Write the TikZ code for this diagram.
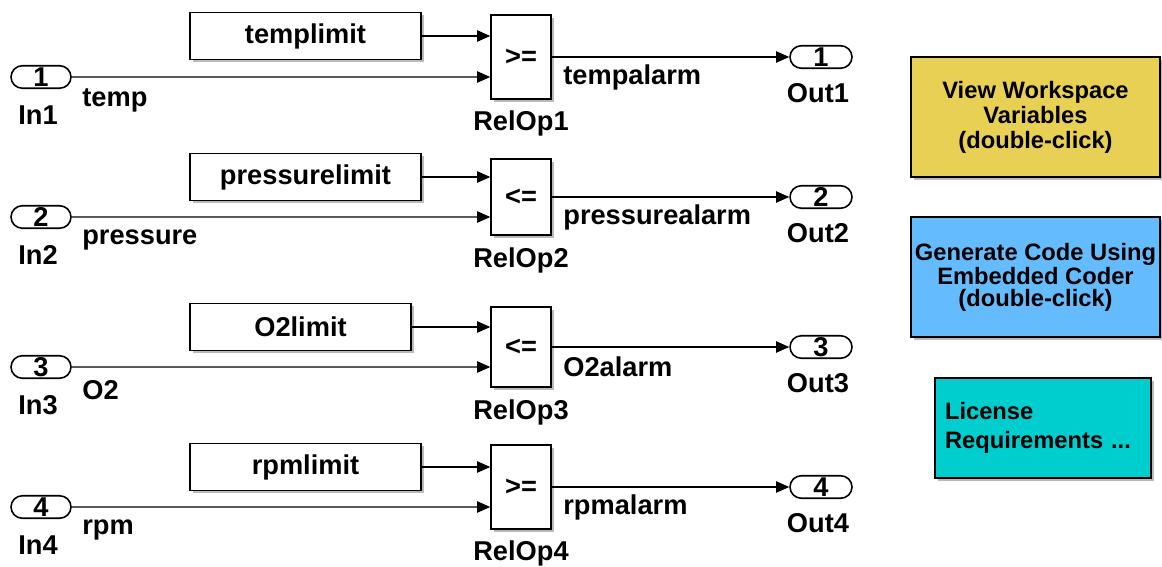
\documentclass[tikz,border=0pt]{standalone}
\usepackage{fontspec}
\setmainfont{Liberation Sans}
\usetikzlibrary{arrows.meta,shapes.misc,shadows}
\definecolor{viewyellow}{RGB}{232,208,84}
\definecolor{codeblue}{RGB}{100,188,255}
\definecolor{licensecyan}{RGB}{0,206,206}

\begin{document}
\begin{tikzpicture}[
  x=0.02cm,
  y=-0.02cm,
  >={Triangle[length=7.5pt,width=6.5pt]},
  blkshadow/.style={drop shadow={shadow xshift=1.5pt, shadow yshift=-1.5pt, fill=black!45, opacity=.6}},
  lbl/.style={font=\fontsize{15.5}{18}\selectfont\bfseries, inner sep=0pt},
  limitblk/.style={draw, line width=0.9pt, fill=white, minimum width=4.62cm, minimum height=0.94cm, font=\fontsize{15.5}{18}\selectfont\bfseries, blkshadow},
  relop/.style={draw, line width=0.9pt, fill=white, minimum width=1.2cm, font=\fontsize{15.5}{18}\selectfont\bfseries, blkshadow},
  port/.style={draw, rounded rectangle, line width=0.9pt, fill=white, minimum width=1.2cm, minimum height=0.45cm, inner sep=0pt, font=\fontsize{15.5}{18}\selectfont\bfseries},
  note/.style={draw, line width=0.9pt, align=center, minimum width=4.98cm, minimum height=2.4cm, inner sep=1pt, blkshadow},
  arrow/.style={->, line width=0.7pt}
]
  \useasboundingbox (0,0) rectangle (1162,567);

  \node[port] (in1) at (41,77) {1};
  \node[lbl] (in1lbl) at (38,115) {In1};
  \node[lbl, anchor=west] (templbl) at (82,100) {temp};
  \node[limitblk] (lim1) at (305.5,36) {templimit};
  \node[relop, minimum height=1.68cm] (rel1) at (521,57) {>=};
  \node[lbl] (rel1lbl) at (521,123) {RelOp1};
  \node[lbl, anchor=west] (tempalarmlbl) at (563,77) {tempalarm};
  \node[port, minimum width=1.24cm] (out1) at (821,57) {1};
  \node[lbl] (out1lbl) at (818,93) {Out1};

  \node[port] (in2) at (41,217) {2};
  \node[lbl] (in2lbl) at (38,255) {In2};
  \node[lbl, anchor=west] (pressurelbl) at (82,240) {pressure};
  \node[limitblk] (lim2) at (305.5,177) {pressurelimit};
  \node[relop, minimum height=1.52cm] (rel2) at (521,197) {<=};
  \node[lbl] (rel2lbl) at (521,260) {RelOp2};
  \node[lbl, anchor=west] (pressurealarmlbl) at (563,217) {pressurealarm};
  \node[port, minimum width=1.24cm] (out2) at (821,197) {2};
  \node[lbl] (out2lbl) at (818,233) {Out2};

  \node[port] (in3) at (41,367) {3};
  \node[lbl] (in3lbl) at (38,405) {In3};
  \node[lbl, anchor=west] (o2lbl) at (82,390) {O2};
  \node[limitblk, minimum width=4.42cm] (lim3) at (300.5,327) {O2limit};
  \node[relop, minimum height=1.6cm] (rel3) at (521,347) {<=};
  \node[lbl] (rel3lbl) at (521,412) {RelOp3};
  \node[lbl, anchor=west] (o2alarmlbl) at (563,367) {O2alarm};
  \node[port, minimum width=1.24cm] (out3) at (821,347) {3};
  \node[lbl] (out3lbl) at (818,383) {Out3};

  \node[port] (in4) at (41,507) {4};
  \node[lbl] (in4lbl) at (38,545) {In4};
  \node[lbl, anchor=west] (rpmlbl) at (82,530) {rpm};
  \node[limitblk] (lim4) at (305.5,467) {rpmlimit};
  \node[relop, minimum height=1.68cm] (rel4) at (521,487) {>=};
  \node[lbl] (rel4lbl) at (521,553) {RelOp4};
  \node[lbl, anchor=west] (rpmalarmlbl) at (563,507) {rpmalarm};
  \node[port, minimum width=1.24cm] (out4) at (821,487) {4};
  \node[lbl] (out4lbl) at (818,523) {Out4};

  \node[note, fill=viewyellow, font=\fontsize{13.5}{14.2}\selectfont\bfseries] (viewvars) at (1035.5,117) {View Workspace\\Variables\\(double-click)};
  \node[note, fill=codeblue, font=\fontsize{13.5}{12.4}\selectfont\bfseries] (gencode) at (1035.5,277) {Generate Code Using\\Embedded Coder\\(double-click)};
  \node[note, fill=licensecyan, minimum width=4.32cm, minimum height=2cm, text width=3.92cm, inner xsep=0.2cm, align=left, font=\fontsize{13.5}{16.5}\selectfont\bfseries] (license) at (1043,428) {License\\Requirements ...};

  \draw[arrow] (lim1) -- (lim1 -| rel1.west);
  \draw[arrow] (in1) -- (in1 -| rel1.west);
  \draw[arrow] (rel1) -- (out1);
  \draw[arrow] (lim2) -- (lim2 -| rel2.west);
  \draw[arrow] (in2) -- (in2 -| rel2.west);
  \draw[arrow] (rel2) -- (out2);
  \draw[arrow] (lim3) -- (lim3 -| rel3.west);
  \draw[arrow] (in3) -- (in3 -| rel3.west);
  \draw[arrow] (rel3) -- (out3);
  \draw[arrow] (lim4) -- (lim4 -| rel4.west);
  \draw[arrow] (in4) -- (in4 -| rel4.west);
  \draw[arrow] (rel4) -- (out4);
\end{tikzpicture}
\end{document}
